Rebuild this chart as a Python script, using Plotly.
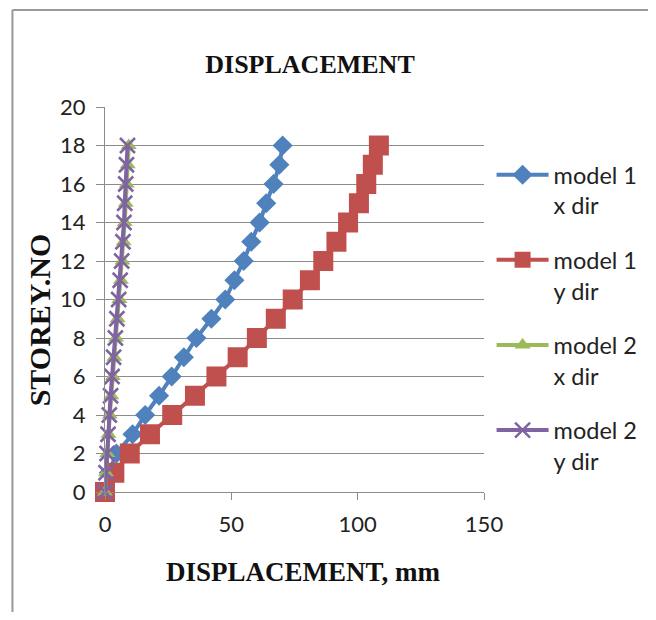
import plotly.graph_objects as go

storeys = list(range(0, 19))
model1_x = [0, 1.5, 4.5, 10.9, 15.9, 21.4, 26.4, 31.2, 36.2, 42.1, 47.6, 51.2, 54.9, 57.9, 61.2, 63.8, 66.7, 69.0, 70.3]
model1_y = [0, 3.7, 9.8, 17.8, 26.6, 35.6, 44.1, 52.5, 60.1, 67.6, 74.3, 81.1, 86.4, 91.6, 96.2, 100.5, 103.4, 106.0, 108.4]
model2_x = [0, 0.4, 0.9, 1.4, 1.9, 2.5, 3.1, 3.7, 4.4, 5.0, 5.7, 6.3, 6.9, 7.4, 7.8, 8.2, 8.6, 9.0, 9.4]
model2_y = [0, 0.4, 0.8, 1.2, 1.7, 2.2, 2.8, 3.4, 4.1, 4.7, 5.4, 6.0, 6.6, 7.1, 7.5, 7.8, 8.2, 8.5, 8.9]

series_names = ["model 1<br>x dir", "model 1<br>y dir", "model 2<br>x dir", "model 2<br>y dir"]
x_ticks = [0, 50, 100, 150]
y_ticks = list(range(0, 21, 2))

BLUE, RED, GREEN, PURPLE = "#4F81BD", "#C0504D", "#9BBB59", "#8064A2"

fig = go.Figure()
fig.add_trace(go.Scatter(x=model1_x, y=storeys, name=series_names[0], legendgroup="a",
                         mode="lines+markers", line=dict(color=BLUE, width=4),
                         marker=dict(symbol="diamond", size=15.5, color=BLUE), cliponaxis=False))
fig.add_trace(go.Scatter(x=model1_y, y=storeys, name=series_names[1], legendgroup="b",
                         mode="lines+markers", line=dict(color=RED, width=4),
                         marker=dict(symbol="square", size=20, color=RED), cliponaxis=False))
fig.add_trace(go.Scatter(x=model2_x, y=storeys, name=series_names[2], legendgroup="c",
                         mode="lines+markers", line=dict(color=GREEN, width=4),
                         marker=dict(symbol="triangle-up", size=14, color=GREEN), cliponaxis=False))
fig.add_trace(go.Scatter(x=model2_y, y=storeys, name=series_names[3], legendgroup="d",
                         mode="lines+markers", line=dict(color=PURPLE, width=4),
                         marker=dict(symbol="x-thin", size=15, color=PURPLE,
                                     line=dict(color=PURPLE, width=2.5)), cliponaxis=False))

serif = "Liberation Serif, Times New Roman, serif"
sans = "Lato, Noto Sans, sans-serif"
grid = "#8C8C8C"

fig.update_layout(
    width=640, height=604,
    margin=dict(l=96.7, r=163.7, t=99, b=119.7, autoexpand=False),
    paper_bgcolor="white", plot_bgcolor="white",
    showlegend=True,
    title=dict(text="<b>DISPLACEMENT</b>", x=0.4719, xanchor="center", y=0.9073, yanchor="middle",
               font=dict(family=serif, size=26, color="#111")),
    xaxis=dict(range=[0, 150], tickvals=x_ticks, showgrid=False, zeroline=False,
               showline=True, linecolor=grid, linewidth=1, ticks="outside", ticklen=7,
               tickcolor=grid, ticklabelstandoff=6, tickfont=dict(family=sans, size=22, color="#222")),
    yaxis=dict(range=[0, 20], tickvals=y_ticks, showgrid=True, gridcolor=grid, gridwidth=1,
               zeroline=False, showline=True, linecolor=grid, linewidth=1, ticks="outside",
               ticklen=8, tickcolor=grid, ticklabelstandoff=6,
               tickfont=dict(family=sans, size=22, color="#222")),
    legend=dict(x=1.02, xanchor="left", y=0.8806, yanchor="top", valign="top",
                tracegroupgap=21, itemwidth=52,
                font=dict(family=sans, size=23.5, color="#222"), bgcolor="rgba(0,0,0,0)"),
    annotations=[
        dict(text="<b>DISPLACEMENT, mm</b>", xref="paper", yref="paper", x=0.525, y=-0.2069,
             xanchor="center", yanchor="middle", showarrow=False,
             font=dict(family=serif, size=27, color="#111")),
        dict(text="<b>STOREY.NO</b>", xref="paper", yref="paper", x=-0.173, y=0.447,
             xanchor="center", yanchor="middle", showarrow=False, textangle=-90,
             font=dict(family=serif, size=30, color="#111")),
    ],
    shapes=[
        dict(type="line", xref="paper", yref="paper", x0=-0.2442, x1=1.47, y0=1.2518, y1=1.2518,
             line=dict(color="#999", width=2)),
        dict(type="line", xref="paper", yref="paper", x0=-0.2442, x1=-0.2442, y0=1.2518, y1=-0.33,
             line=dict(color="#999", width=2)),
    ],
)

fig.write_html("out.html", config={"displayModeBar": False})
